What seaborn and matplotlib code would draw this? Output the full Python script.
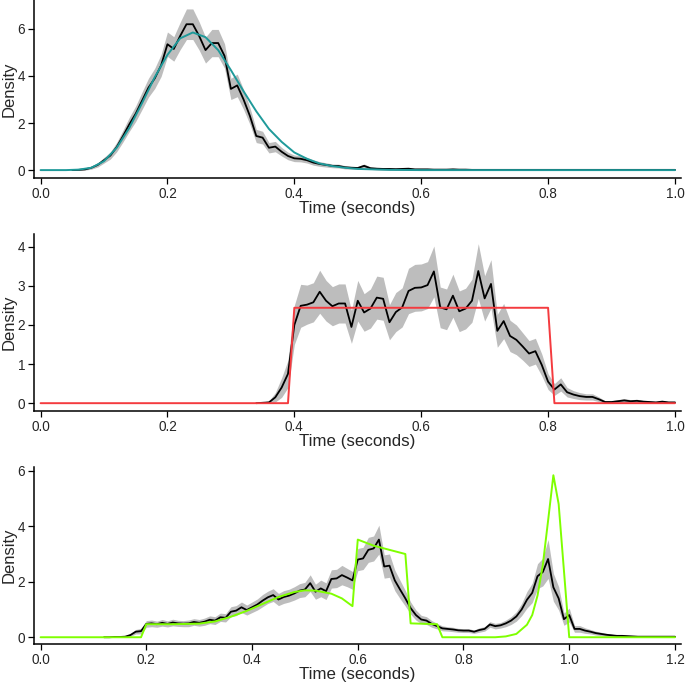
import numpy as np
import matplotlib
matplotlib.use("Agg")
import matplotlib.pyplot as plt
import seaborn as sns

# ---- panel 1: empirical density (bins of 0.01 s) and fitted curve ----
t1 = np.round(np.arange(0.05, 1.005, 0.01), 2)
emp1 = [0.0, 0.01, 0.03, 0.1, 0.22,
        0.42, 0.62, 0.98, 1.45, 1.95, 2.4, 2.95, 3.5, 3.9, 4.45,
        5.35, 5.15, 5.7, 6.2, 6.2, 5.7, 5.1, 5.4, 5.4, 4.85,
        3.45, 3.6, 3.0, 2.3, 1.45, 1.38, 0.95, 1.0, 0.78, 0.6,
        0.5, 0.48, 0.42, 0.32, 0.26, 0.22, 0.18, 0.17, 0.12, 0.1,
        0.09, 0.18, 0.08, 0.06, 0.05, 0.05, 0.04, 0.05, 0.06, 0.03,
        0.03, 0.03, 0.02, 0.02, 0.02, 0.03, 0.02, 0.02, 0.01, 0.01,
        0.01, 0.01, 0.01, 0.01, 0.01, 0.01, 0.01, 0.01, 0.01, 0.01,
        0.01, 0.01, 0.01, 0.01, 0.01, 0.01, 0.01, 0.01, 0.01, 0.01,
        0.01, 0.01, 0.01, 0.01, 0.01, 0.01, 0.01, 0.01, 0.01, 0.01,
        0.01]
ci1 = [0.01, 0.02, 0.03, 0.06, 0.09,
       0.12, 0.15, 0.2, 0.25, 0.3, 0.33, 0.37, 0.4, 0.43, 0.47,
       0.52, 0.52, 0.58, 0.65, 0.65, 0.6, 0.55, 0.58, 0.58, 0.52,
       0.45, 0.48, 0.42, 0.36, 0.28, 0.27, 0.22, 0.22, 0.18, 0.16,
       0.14, 0.13, 0.12, 0.11, 0.1, 0.09, 0.08, 0.08, 0.07, 0.06,
       0.06, 0.08, 0.05, 0.05, 0.05, 0.05, 0.05, 0.05, 0.05, 0.05,
       0.05, 0.05, 0.04, 0.04, 0.04, 0.05, 0.04, 0.04, 0.04, 0.04,
       0.04, 0.04, 0.04, 0.04, 0.04, 0.04, 0.04, 0.04, 0.04, 0.04,
       0.04, 0.04, 0.04, 0.04, 0.04, 0.04, 0.04, 0.04, 0.04, 0.04,
       0.04, 0.04, 0.04, 0.04, 0.04, 0.04, 0.04, 0.04, 0.04, 0.04,
       0.04]
fit1_x = [0.0, 0.04, 0.06, 0.08, 0.10, 0.12, 0.14, 0.16, 0.18, 0.20, 0.22,
          0.24, 0.26, 0.28, 0.30, 0.32, 0.34, 0.36, 0.38, 0.40, 0.42, 0.44,
          0.46, 0.48, 0.50, 0.55, 0.60, 1.0]
fit1_y = [0.0, 0.0, 0.02, 0.1, 0.38, 0.95, 1.8, 2.85, 3.95, 4.9, 5.6,
          5.85, 5.65, 5.1, 4.25, 3.35, 2.5, 1.75, 1.2, 0.75, 0.48, 0.28,
          0.17, 0.1, 0.05, 0.01, 0.0, 0.0]

# ---- panel 2: empirical density and uniform fit ----
t2 = np.round(np.arange(0.34, 1.005, 0.01), 2)
emp2 = [0.0, 0.01, 0.02, 0.15, 0.4, 0.75,
        2.0, 2.49, 2.52, 2.58, 2.85, 2.62, 2.48, 2.55, 2.55, 1.95,
        2.62, 2.32, 2.42, 2.7, 2.67, 2.07, 2.33, 2.45, 2.87, 2.95,
        2.96, 3.02, 3.37, 2.45, 2.4, 2.75, 2.35, 2.42, 2.62, 3.38,
        2.68, 3.05, 1.85, 2.1, 1.72, 1.62, 1.45, 1.27, 1.33, 0.98,
        0.55, 0.35, 0.48, 0.28, 0.22, 0.18, 0.16, 0.16, 0.1, 0.03,
        0.03, 0.05, 0.07, 0.05, 0.06, 0.04, 0.03, 0.02, 0.04, 0.02, 0.02]
ci2 = [0.01, 0.02, 0.04, 0.12, 0.25, 0.35,
       0.5, 0.55, 0.5, 0.5, 0.55, 0.52, 0.5, 0.5, 0.5, 0.42,
       0.52, 0.48, 0.5, 0.55, 0.55, 0.45, 0.5, 0.5, 0.58, 0.6,
       0.6, 0.6, 0.65, 0.52, 0.52, 0.55, 0.52, 0.52, 0.55, 0.7,
       0.58, 0.62, 0.42, 0.45, 0.4, 0.38, 0.35, 0.33, 0.33, 0.28,
       0.2, 0.15, 0.17, 0.12, 0.1, 0.09, 0.08, 0.08, 0.06, 0.03,
       0.03, 0.04, 0.05, 0.04, 0.04, 0.03, 0.03, 0.02, 0.03, 0.02, 0.02]
fit2_x = [0.0, 0.39, 0.40, 0.80, 0.81, 1.0]
fit2_y = [0.0, 0.0, 2.44, 2.44, 0.0, 0.0]

# ---- panel 3: empirical density and mixture fit ----
t3 = np.round(np.arange(0.12, 1.205, 0.01), 2)
emp3 = [0.0, 0.0, 0.01, 0.01, 0.02, 0.08, 0.2, 0.22,
        0.48, 0.5, 0.47, 0.52, 0.48, 0.53, 0.5, 0.49, 0.5, 0.55,
        0.52, 0.56, 0.63, 0.6, 0.72, 0.7, 0.92, 0.96, 1.08, 0.98,
        1.08, 1.18, 1.32, 1.44, 1.52, 1.36, 1.45, 1.5, 1.58, 1.68,
        1.72, 1.95, 1.64, 1.76, 1.66, 2.1, 2.12, 2.24, 2.15, 2.05,
        2.8, 2.84, 3.15, 3.2, 3.52, 2.55, 2.58, 2.05, 1.72, 1.4,
        1.05, 0.8, 0.64, 0.6, 0.48, 0.4, 0.32, 0.3, 0.28, 0.25,
        0.24, 0.24, 0.2, 0.26, 0.3, 0.46, 0.4, 0.43, 0.5, 0.6,
        0.75, 1.0, 1.35, 1.6, 2.2, 2.35, 2.82, 1.8, 1.4, 0.65,
        0.8, 0.3, 0.3, 0.24, 0.2, 0.15, 0.12, 0.09, 0.07, 0.05,
        0.05, 0.04, 0.03, 0.02, 0.02, 0.02, 0.02, 0.02, 0.02, 0.02, 0.02]
ci3 = [0.01, 0.01, 0.02, 0.02, 0.03, 0.05, 0.08, 0.1,
       0.12, 0.12, 0.11, 0.12, 0.11, 0.12, 0.11, 0.11, 0.12, 0.12,
       0.12, 0.13, 0.14, 0.14, 0.15, 0.15, 0.18, 0.18, 0.19, 0.18,
       0.19, 0.2, 0.22, 0.22, 0.23, 0.22, 0.23, 0.23, 0.24, 0.25,
       0.26, 0.3, 0.27, 0.3, 0.3, 0.33, 0.33, 0.35, 0.33, 0.32,
       0.4, 0.4, 0.45, 0.45, 0.52, 0.42, 0.42, 0.37, 0.33, 0.28,
       0.22, 0.18, 0.15, 0.14, 0.12, 0.1, 0.09, 0.08, 0.08, 0.07,
       0.07, 0.07, 0.06, 0.08, 0.08, 0.1, 0.1, 0.1, 0.12, 0.14,
       0.17, 0.22, 0.3, 0.35, 0.45, 0.5, 0.7, 0.5, 0.42, 0.22,
       0.25, 0.12, 0.12, 0.1, 0.08, 0.07, 0.06, 0.05, 0.04, 0.03,
       0.03, 0.03, 0.03, 0.03, 0.03, 0.03, 0.03, 0.03, 0.03, 0.03, 0.03]
fit3_x = [0.0, 0.19, 0.20, 0.25, 0.30, 0.33, 0.36, 0.39, 0.42, 0.45, 0.48,
          0.50, 0.52, 0.55, 0.57, 0.59, 0.60, 0.63, 0.66, 0.69, 0.70, 0.75,
          0.76, 0.86, 0.88, 0.90, 0.92, 0.93, 0.94, 0.95, 0.96, 0.97, 0.98,
          1.0, 1.2]
fit3_y = [0.0, 0.0, 0.47, 0.47, 0.49, 0.57, 0.74, 0.95, 1.2, 1.45, 1.63,
          1.69, 1.68, 1.57, 1.4, 1.12, 3.52, 3.3, 3.15, 3.0, 0.5, 0.47,
          0.0, 0.0, 0.03, 0.12, 0.45, 0.8, 1.5, 2.6, 4.2, 5.84, 4.8,
          0.0, 0.0]

sns.set_style("ticks")
plt.rcParams["font.family"] = ["Liberation Sans", "DejaVu Sans"]

fig = plt.figure(figsize=(6.85, 6.85), dpi=100)

panels = [
    dict(t=t1, emp=emp1, ci=ci1, fx=fit1_x, fy=fit1_y, col="#1f9a9a",
         pos=[0.0496, 0.740, 0.945, 0.260], xlim=(-0.0104, 1.01),
         ylim=(-0.34, 7.23), yt=[0, 2, 4, 6],
         xt=[0.0, 0.2, 0.4, 0.6, 0.8, 1.0]),
    dict(t=t2, emp=emp2, ci=ci2, fx=fit2_x, fy=fit2_y, col="#f43b3f",
         pos=[0.0496, 0.400, 0.945, 0.258], xlim=(-0.0104, 1.01),
         ylim=(-0.2, 4.32), yt=[0, 1, 2, 3, 4],
         xt=[0.0, 0.2, 0.4, 0.6, 0.8, 1.0]),
    dict(t=t3, emp=emp3, ci=ci3, fx=fit3_x, fy=fit3_y, col="#7fff00",
         pos=[0.0496, 0.060, 0.945, 0.258], xlim=(-0.0125, 1.212),
         ylim=(-0.24, 6.13), yt=[0, 2, 4, 6],
         xt=[0.0, 0.2, 0.4, 0.6, 0.8, 1.0, 1.2]),
]

for p in panels:
    ax = fig.add_axes(p["pos"])
    emp = np.array(p["emp"])
    ci = np.array(p["ci"])
    ax.fill_between(p["t"], np.clip(emp - ci, 0, None), emp + ci,
                    color="#bdbdbd", lw=0, zorder=1)
    sns.lineplot(x=p["t"], y=emp, ax=ax, color="black", lw=1.3, zorder=3)
    sns.lineplot(x=p["fx"], y=p["fy"], ax=ax, color=p["col"], lw=1.4, zorder=4)
    ax.set_xlim(*p["xlim"])
    ax.set_ylim(*p["ylim"])
    ax.set_xticks(p["xt"])
    ax.set_xticklabels([f"{v:.1f}" for v in p["xt"]])
    ax.set_yticks(p["yt"])
    ax.set_xlabel("Time (seconds)", fontsize=12.2, labelpad=0.5)
    ax.set_ylabel("Density", fontsize=12, labelpad=1)
    ax.tick_params(labelsize=9.8, colors="black", labelcolor="#262626",
                   length=4, width=0.9, pad=2.2)
    sns.despine(ax=ax)
    for s in ["left", "bottom"]:
        ax.spines[s].set_color("black")
        ax.spines[s].set_linewidth(1.1)

fig.savefig("out.png", dpi=100)
